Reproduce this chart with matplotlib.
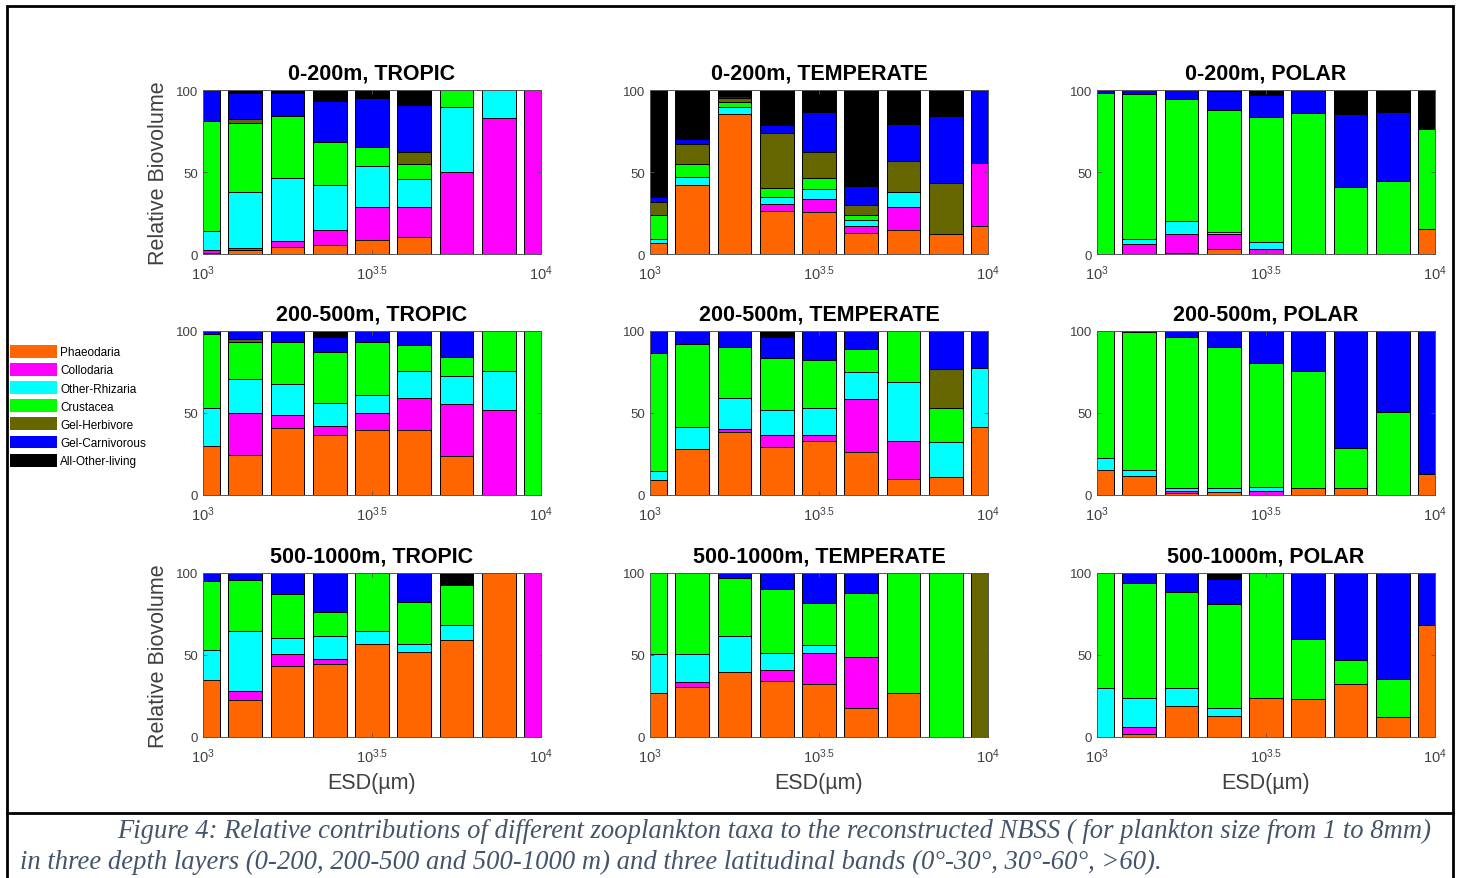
import numpy as np
import matplotlib
matplotlib.use('Agg')
import matplotlib.pyplot as plt
from matplotlib.patches import Patch, Rectangle
from matplotlib.lines import Line2D

plt.rcParams['font.family'] = 'Liberation Sans'
plt.rcParams['mathtext.fontset'] = 'custom'
plt.rcParams['mathtext.rm'] = 'Liberation Sans'
plt.rcParams['mathtext.it'] = 'Liberation Sans:italic'
plt.rcParams['mathtext.bf'] = 'Liberation Sans:bold'

# taxa, bottom to top of each stack
taxa = ['Phaeodaria', 'Collodaria', 'Other-Rhizaria', 'Crustacea',
        'Gel-Herbivore', 'Gel-Carnivorous', 'All-Other-living']
colors = ['#FF6600', '#FF00FF', '#00FFFF', '#00FF00',
          '#666600', '#0000FF', '#000000']

# size bins: log10(ESD in um)
log_esd = 3 + np.arange(9) / 8

# relative biovolume (%) per taxon (rows) and size bin (columns)
tropic_0_200 = [
    [0.5, 2.5, 4, 5.3, 8.4, 10.5, 0, 0, 0],
    [2, 1, 4, 9.5, 20.1, 18, 50, 83, 100],
    [11.5, 34.3, 38.4, 27.2, 25.3, 17.1, 39.7, 17, 0],
    [67, 42.2, 38, 26, 11.2, 9.4, 10.3, 0, 0],
    [0, 2.5, 0, 0, 0, 7, 0, 0, 0],
    [19, 15.5, 13.6, 25, 30, 28.8, 0, 0, 0],
    [0, 2, 2, 7, 5, 9.2, 0, 0, 0],
]
temperate_0_200 = [
    [6.6, 42, 85.2, 26, 25.5, 12.7, 14.8, 12, 17.2],
    [0, 0, 0, 4.6, 7.8, 4.3, 13.9, 0, 38],
    [2.6, 5.2, 4.4, 4.4, 6.1, 3.5, 9.3, 0, 0],
    [14.4, 7.8, 2.8, 5, 7, 3.5, 0, 0, 0],
    [8, 12, 2.6, 33.7, 15.6, 6, 18.5, 31, 0],
    [3.1, 3, 1.5, 4.7, 24.7, 11.3, 23, 41.4, 44.8],
    [65.3, 30, 3.5, 21.6, 13.3, 58.7, 20.5, 15.6, 0],
]
polar_0_200 = [
    [0, 0, 0.4, 3.3, 0, 0, 0, 0, 15.4],
    [0, 6.4, 11.6, 9, 3, 0, 0, 0, 0],
    [0, 2.8, 8, 1, 4.6, 0, 0, 0, 0],
    [98, 88.3, 74.7, 74.7, 76.2, 85.8, 40.7, 44.8, 61],
    [0, 0, 0, 0, 0, 0, 0, 0, 0],
    [2, 2.5, 5.3, 11.5, 13.2, 14.2, 44.5, 41.9, 0],
    [0, 0, 0, 0.5, 3, 0, 14.8, 13.3, 23.6],
]
tropic_200_500 = [
    [29.6, 24.6, 41, 36.8, 39.6, 39.6, 23.8, 0, 0],
    [0, 25.7, 7.9, 5.2, 10.7, 19.4, 31.4, 51.7, 0],
    [23.2, 20.3, 18.7, 14, 10.7, 16.5, 17.5, 24.1, 0],
    [45.2, 22.8, 25.8, 30.9, 32.4, 15.9, 11.3, 24.2, 100],
    [0, 1.6, 0, 0, 0, 0, 0, 0, 0],
    [2, 5, 6.6, 9.4, 6.6, 8.6, 16, 0, 0],
    [0, 0, 0, 3.7, 0, 0, 0, 0, 0],
]
temperate_200_500 = [
    [9.4, 28, 38.4, 29, 33, 26, 10, 10.7, 41.3],
    [0, 0, 2.1, 7.8, 3.8, 32.3, 23, 0, 0],
    [5, 13.7, 18.5, 14.9, 16, 16.4, 36.2, 21.5, 36.3],
    [72, 50.3, 31, 31.7, 29.7, 14.3, 30.8, 21, 0],
    [0, 0, 0, 0, 0, 0, 0, 23.6, 0],
    [13.6, 8, 10, 12.9, 17.5, 11, 0, 23.2, 22.4],
    [0, 0, 0, 3.7, 0, 0, 0, 0, 0],
]
polar_200_500 = [
    [15.2, 11.5, 1.5, 1.6, 0, 4.5, 4.5, 0, 13.1],
    [0, 0, 0.7, 0, 2.5, 0, 0, 0, 0],
    [7.2, 3.9, 2.3, 2.4, 2.6, 0, 0, 0, 0],
    [77.6, 84.1, 91.8, 86.5, 75.4, 71.1, 24.2, 50.7, 0],
    [0, 0, 0, 0, 0, 0, 0, 0, 0],
    [0, 0.5, 3.7, 9.5, 19.5, 24.4, 71.3, 49.3, 86.9],
    [0, 0, 0, 0, 0, 0, 0, 0, 0],
]
tropic_500_1000 = [
    [34.8, 22.5, 43.4, 44.7, 57, 52, 59.2, 100, 0],
    [0, 5.5, 7.4, 3, 0, 0, 0, 0, 100],
    [18.2, 36.8, 9.7, 14, 7.8, 4.8, 8.8, 0, 0],
    [42, 30.9, 26.5, 14.7, 35.2, 25.4, 24.8, 0, 0],
    [0, 0, 0, 0, 0, 0, 0, 0, 0],
    [5, 4.3, 13, 23.6, 0, 17.8, 0, 0, 0],
    [0, 0, 0, 0, 0, 0, 7.2, 0, 0],
]
temperate_500_1000 = [
    [26.8, 30.5, 39.8, 34, 32.6, 17.4, 26.8, 0, 0],
    [0, 2.9, 0, 7, 18.6, 31.2, 0, 0, 0],
    [23.6, 17, 21.9, 10.2, 4.9, 0, 0, 0, 0],
    [49.6, 49.6, 35.3, 38.8, 25.9, 39.1, 73.2, 100, 0],
    [0, 0, 0, 0, 0, 0, 0, 0, 100],
    [0, 0, 3, 10, 18, 12.3, 0, 0, 0],
    [0, 0, 0, 0, 0, 0, 0, 0, 0],
]
polar_500_1000 = [
    [0, 1.6, 19, 13.1, 24, 23.2, 32.6, 12.3, 68.4],
    [0, 4.5, 0, 0, 0, 0, 0, 0, 0],
    [29.7, 17.9, 10.7, 4.5, 0, 0, 0, 0, 0],
    [70.3, 69.6, 59, 63.8, 76, 36.4, 14.4, 23.2, 0],
    [0, 0, 0, 0, 0, 0, 0, 0, 0],
    [0, 6.4, 11.3, 15.1, 0, 40.4, 53, 64.5, 31.6],
    [0, 0, 0, 3.5, 0, 0, 0, 0, 0],
]

depths = ['0-200m', '200-500m', '500-1000m']
zones = ['TROPIC', 'TEMPERATE', 'POLAR']
grid = [[tropic_0_200, temperate_0_200, polar_0_200],
        [tropic_200_500, temperate_200_500, polar_200_500],
        [tropic_500_1000, temperate_500_1000, polar_500_1000]]

W, H = 1459, 879
fig = plt.figure(figsize=(W / 100, H / 100), dpi=100)

col_left = [203, 650, 1097]
row_top = [91, 332, 574]
ax_w, ax_h = 338, 164
frame = '#555555'

for r in range(3):
    for c in range(3):
        ax = fig.add_axes([col_left[c] / W, 1 - (row_top[r] + ax_h) / H,
                           ax_w / W, ax_h / H])
        bottom = np.zeros(9)
        for vals, col in zip(grid[r][c], colors):
            vals = np.array(vals, dtype=float)
            ax.bar(log_esd, vals, width=0.1, bottom=bottom, color=col,
                   edgecolor='black', linewidth=0.7)
            bottom += vals
        ax.set_xlim(3, 4)
        ax.set_ylim(0, 100)
        ax.set_xticks([3, 3.5, 4])
        ax.set_xticklabels(['$10^{3}$', '$10^{3.5}$', '$10^{4}$'])
        ax.set_yticks([0, 50, 100])
        ax.tick_params(direction='in', length=3, width=0.6, colors=frame,
                       labelcolor='#404040', labelsize=9.5, top=True, right=True)
        ax.tick_params(axis='x', pad=7, labelsize=10.5)
        for s in ax.spines.values():
            s.set_color(frame)
            s.set_linewidth(0.7)
        ax.set_title(f'{depths[r]}, {zones[c]}', fontsize=15.5,
                     fontweight='bold', pad=8)
        if c == 0 and r != 1:
            ax.set_ylabel('Relative Biovolume', fontsize=15.5,
                          color='#404040', labelpad=5)
        if r == 2:
            ax.set_xlabel('ESD(µm)', fontsize=15.5, color='#404040',
                          labelpad=5)

handles = [Patch(facecolor=col, edgecolor='none', label=t)
           for t, col in zip(taxa, colors)]
fig.legend(handles=handles, loc='upper left',
           bbox_to_anchor=(10 / W, 1 - 346 / H), frameon=False,
           fontsize=8.5, handlelength=4.0, handleheight=1.3,
           labelspacing=0.4, handletextpad=0.25, borderpad=0,
           borderaxespad=0)

# outer frame and caption separator
fig.add_artist(Rectangle((7 / W, -0.05), (1453 - 7) / W, 1.05 - 7 / H,
                         transform=fig.transFigure, fill=False,
                         edgecolor='black', linewidth=2))
fig.add_artist(Line2D([7 / W, 1453 / W], [1 - 814 / H, 1 - 814 / H],
                      transform=fig.transFigure, color='black', linewidth=2))

cap_kw = dict(fontsize=19.2, family='Liberation Serif', style='italic',
              color='#44546A', va='center', ha='left')
fig.text(117 / W, 1 - 831 / H,
         'Figure 4: Relative contributions of different zooplankton taxa to '
         'the reconstructed NBSS ( for plankton size from 1 to 8mm)', **cap_kw)
fig.text(20 / W, 1 - 862 / H,
         'in three depth layers (0-200, 200-500 and 500-1000 m) and three '
         'latitudinal bands (0°-30°, 30°-60°, >60).', **cap_kw)

fig.savefig('out.png', dpi=100)
